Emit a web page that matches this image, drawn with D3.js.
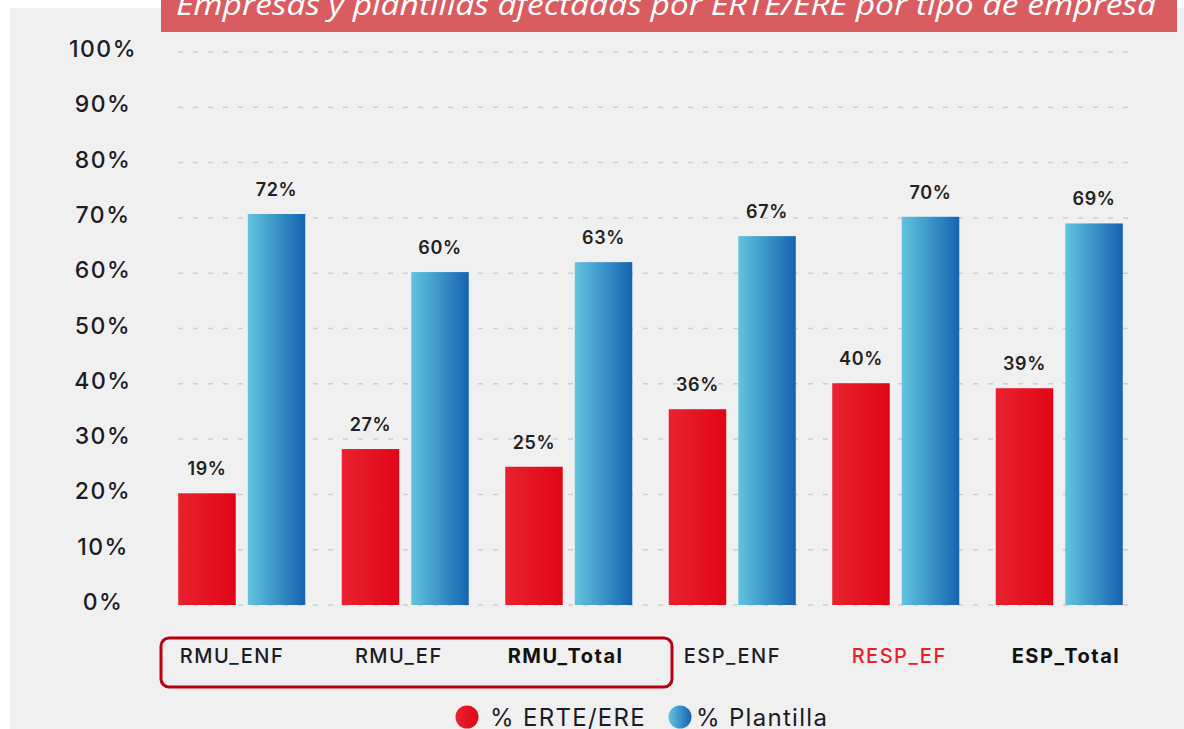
<!DOCTYPE html>
<html>
<head>
<meta charset="utf-8">
<script src="https://cdn.jsdelivr.net/npm/d3@7"></script>
<style>
  html, body { margin: 0; padding: 0; background: #ffffff; }
  svg { display: block; font-family: 'Inter', 'Lato', sans-serif; }
</style>
</head>
<body>
<div id="chart"></div>
<script>
// categorías y valores (altura de barra, etiqueta como aparece)
const categorias = ['RMU_ENF', 'RMU_EF', 'RMU_Total', 'ESP_ENF', 'RESP_EF', 'ESP_Total'];
const series = ['% ERTE/ERE', '% Plantilla'];
const erteBarra = [20.2, 28.2, 25.0, 35.4, 40.1, 39.2];
const plantillaBarra = [70.7, 60.2, 62.0, 66.7, 70.2, 69.0];
const erteEtiqueta = ['19%', '27%', '25%', '36%', '40%', '39%'];
const plantillaEtiqueta = ['72%', '60%', '63%', '67%', '70%', '69%'];
const ticksY = [0, 10, 20, 30, 40, 50, 60, 70, 80, 90, 100];
const titulo = 'Empresas y plantillas afectadas por ERTE/ERE por tipo de empresa';

const largura = 1184, altura = 729;

const svg = d3.select('#chart')
    .append('svg')
    .attr('width', largura)
    .attr('height', altura)
    .attr('viewBox', '0 0 ' + largura + ' ' + altura);

const defs = svg.append('defs');
const gradRojo = defs.append('linearGradient').attr('id', 'gRojo').attr('x1', 0).attr('x2', 1).attr('y1', 0).attr('y2', 0);
gradRojo.append('stop').attr('offset', '0%').attr('stop-color', '#e8222f');
gradRojo.append('stop').attr('offset', '100%').attr('stop-color', '#e00616');
const gradAzul = defs.append('linearGradient').attr('id', 'gAzul').attr('x1', 0).attr('x2', 1).attr('y1', 0).attr('y2', 0);
gradAzul.append('stop').attr('offset', '0%').attr('stop-color', '#62c4de');
gradAzul.append('stop').attr('offset', '100%').attr('stop-color', '#1463b0');

// panel gris de fondo
svg.append('rect')
    .attr('x', 10).attr('y', 8)
    .attr('width', largura - 10).attr('height', altura - 8)
    .attr('fill', '#f0f0f0');

// escalas
const y = d3.scaleLinear().domain([0, 100]).range([605, 52]);
const x = d3.scaleBand().domain(categorias).range([160, 1141]).paddingInner(0.223).paddingOuter(0.1115);
const xs = d3.scaleBand().domain(series).range([0, x.bandwidth()]).paddingInner(0.173);
const xLab = d3.scalePoint().domain(categorias).range([232, 1066]);

// rejilla
svg.append('g')
    .selectAll('line')
    .data(ticksY)
    .join('line')
    .attr('x1', 178).attr('x2', 1132)
    .attr('y1', d => y(d)).attr('y2', d => y(d))
    .attr('stroke', '#cdcdcd')
    .attr('stroke-width', 1.5)
    .attr('stroke-dasharray', '5,10');

// eje Y
svg.append('g')
    .selectAll('text')
    .data(ticksY)
    .join('text')
    .attr('x', 103)
    .attr('y', d => y(d) - 3)
    .attr('dy', '0.35em')
    .attr('text-anchor', 'middle')
    .attr('font-size', 23)
    .attr('font-weight', 500)
    .attr('letter-spacing', 1.5)
    .attr('fill', '#1c1c28')
    .text(d => d + '%');

// barras
const filas = categorias.map((c, i) => ({
    cat: c,
    valores: [
        { serie: series[0], v: erteBarra[i], et: erteEtiqueta[i], fill: 'url(#gRojo)' },
        { serie: series[1], v: plantillaBarra[i], et: plantillaEtiqueta[i], fill: 'url(#gAzul)' }
    ]
}));

const grupos = svg.append('g')
    .selectAll('g')
    .data(filas)
    .join('g')
    .attr('transform', d => `translate(${x(d.cat)},0)`);

grupos.selectAll('rect')
    .data(d => d.valores)
    .join('rect')
    .attr('x', d => xs(d.serie))
    .attr('y', d => y(d.v))
    .attr('width', xs.bandwidth())
    .attr('height', d => y(0) - y(d.v))
    .attr('fill', d => d.fill);

grupos.selectAll('text')
    .data(d => d.valores)
    .join('text')
    .attr('x', d => xs(d.serie) + xs.bandwidth() / 2)
    .attr('y', d => y(d.v) - 18)
    .attr('text-anchor', 'middle')
    .attr('font-size', 18)
    .attr('font-weight', 600)
    .attr('letter-spacing', 0.6)
    .attr('fill', '#222')
    .text(d => d.et);

// etiquetas eje X
const estiloX = {
    'RMU_ENF': { w: 500, c: '#1c1c28' },
    'RMU_EF': { w: 500, c: '#1c1c28' },
    'RMU_Total': { w: 700, c: '#111' },
    'ESP_ENF': { w: 500, c: '#1c1c28' },
    'RESP_EF': { w: 500, c: '#e8202e' },
    'ESP_Total': { w: 700, c: '#111' }
};
svg.append('g')
    .selectAll('text')
    .data(categorias)
    .join('text')
    .attr('x', d => xLab(d))
    .attr('y', 663)
    .attr('text-anchor', 'middle')
    .attr('font-size', 20)
    .attr('font-weight', d => estiloX[d].w)
    .attr('letter-spacing', 1.5)
    .attr('fill', d => estiloX[d].c)
    .text(d => d);

// recuadro RMU
svg.append('rect')
    .attr('x', 161).attr('y', 638)
    .attr('width', 511).attr('height', 49)
    .attr('rx', 8)
    .attr('fill', 'none')
    .attr('stroke', '#b80010')
    .attr('stroke-width', 3);

// leyenda
const leyenda = [
    { nombre: series[0], fill: 'url(#gRojo)', cx: 467, tx: 490 },
    { nombre: series[1], fill: 'url(#gAzul)', cx: 680, tx: 696 }
];
const lg = svg.append('g').selectAll('g').data(leyenda).join('g');
lg.append('circle')
    .attr('cx', d => d.cx).attr('cy', 717).attr('r', 11.5)
    .attr('fill', d => d.fill);
lg.append('text')
    .attr('x', d => d.tx).attr('y', 726)
    .attr('font-size', 24)
    .attr('letter-spacing', 1.3)
    .attr('fill', '#1c1c28')
    .text(d => d.nombre);

// banda del título
svg.append('rect')
    .attr('x', 161).attr('y', 0)
    .attr('width', 1016).attr('height', 32)
    .attr('fill', '#d95c60');
svg.append('text')
    .attr('x', 176).attr('y', 15)
    .attr('font-family', "'Open Sans', sans-serif")
    .attr('font-style', 'italic')
    .attr('font-size', 29)
    .attr('fill', '#ffffff')
    .attr('textLength', 980)
    .attr('lengthAdjust', 'spacingAndGlyphs')
    .text(titulo);
</script>
</body>
</html>
